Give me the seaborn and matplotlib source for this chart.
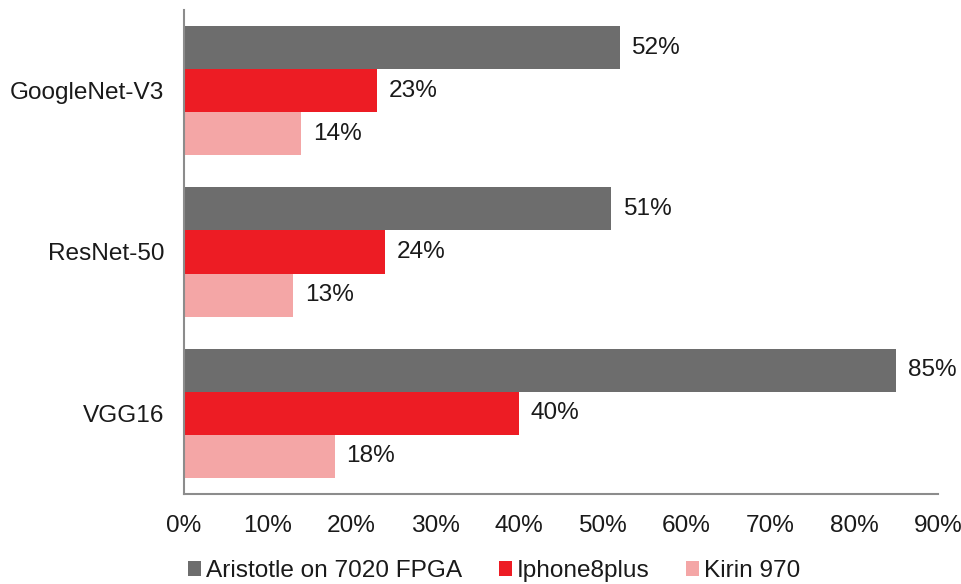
import matplotlib
matplotlib.use("Agg")
import matplotlib.pyplot as plt
import seaborn as sns
import pandas as pd
from matplotlib.patches import Patch

models = ["GoogleNet-V3", "ResNet-50", "VGG16"]
series = ["Aristotle on 7020 FPGA", "Iphone8plus", "Kirin 970"]
fpga = [52, 51, 85]
iphone = [23, 24, 40]
kirin = [14, 13, 18]
xticks = [0, 10, 20, 30, 40, 50, 60, 70, 80, 90]
colors = ["#6d6d6d", "#ed1c24", "#f4a6a6"]

rows = []
for s, vals in zip(series, [fpga, iphone, kirin]):
    for m, v in zip(models, vals):
        rows.append({"model": m, "series": s, "value": v})
df = pd.DataFrame(rows)

sns.set_style("white")
plt.rcParams["font.family"] = ["Liberation Sans", "DejaVu Sans"]

FS = 17.6
fig = plt.figure(figsize=(9.61, 5.84), dpi=100)
ax = fig.add_axes([184/961, 90/584, (938-184)/961, (494-10)/584])

sns.barplot(data=df, y="model", x="value", hue="series", order=models,
            hue_order=series, palette=colors, orient="h", width=0.8,
            saturation=1, ax=ax, legend=False, linewidth=0)

for cont in ax.containers:
    ax.bar_label(cont, labels=[f"{int(round(w))}%" for w in cont.datavalues],
                 padding=8.5, fontsize=FS, color="#1a1a1a")

ax.set_xlim(0, 90)
ax.set_ylim(2.5, -0.5)
ax.set_xticks(xticks)
ax.set_xticklabels([f"{t}%" for t in xticks], fontsize=FS, color="#1a1a1a")
ax.tick_params(axis="y", labelsize=FS, labelcolor="#1a1a1a", length=0, pad=14.4)
ax.tick_params(axis="x", length=0, pad=15)
ax.set_xlabel("")
ax.set_ylabel("")
for sp in ["top", "right"]:
    ax.spines[sp].set_visible(False)
for sp in ["left", "bottom"]:
    ax.spines[sp].set_color("#8c8c8c")
    ax.spines[sp].set_linewidth(1.5)

handles = [Patch(facecolor=c, edgecolor="none") for c in colors]
fig.legend(handles, series, loc="center", bbox_to_anchor=(494/961, 1 - 571/584),
           ncol=3, frameon=False, fontsize=FS, handlelength=0.55,
           handleheight=0.55, handletextpad=0.18, columnspacing=1.5,
           labelcolor="#1a1a1a")

fig.savefig("out.png", dpi=100)
